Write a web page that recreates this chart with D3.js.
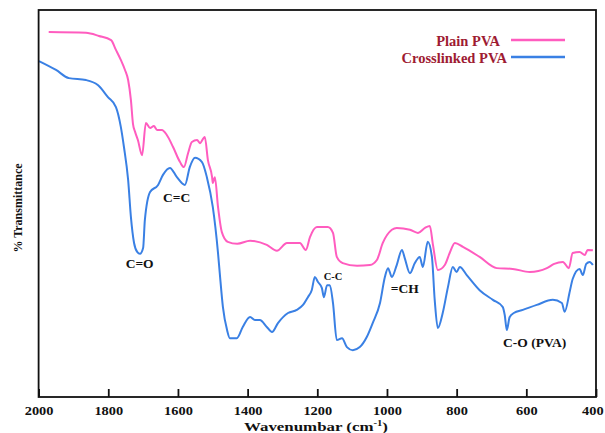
<!DOCTYPE html>
<html>
<head>
  <meta charset="utf-8">
  <script src="https://d3js.org/d3.v7.min.js"></script>
  <style>
    body { margin: 0; background: #fff; }
    text { font-family: "Liberation Serif", "Times New Roman", serif; font-weight: bold; }
  </style>
</head>
<body>
<script>
// Plain PVA (pink)
var plainWn = [1971, 1864, 1827, 1792, 1778, 1764, 1752, 1743, 1735, 1729, 1723, 1715, 1703,
  1692, 1680, 1669, 1660, 1646, 1632, 1614, 1594, 1583, 1571, 1560, 1545, 1537, 1523, 1514,
  1502, 1500, 1494, 1485, 1474, 1457, 1430, 1393, 1345, 1316, 1287, 1250, 1233, 1221, 1201,
  1170, 1155, 1144, 1127, 1086, 1049, 1029, 1012, 986, 972, 934, 911, 891, 877, 868, 854,
  834, 820, 805, 782, 734, 685, 639, 590, 541, 520, 495, 478, 467, 447, 432, 424, 409];
var plainT = [94.3, 94.1, 93.3, 92.2, 89.7, 87.1, 84.5, 81.9, 76.7, 70.5, 68.5, 66.4, 62.5,
  70.8, 69.5, 70.0, 69.0, 69.0, 67.7, 64.6, 60.7, 59.4, 63.0, 65.9, 66.4, 65.6, 67.2, 61.2,
  56.8, 55.3, 56.8, 49.1, 42.6, 40.1, 39.6, 40.4, 39.3, 37.8, 39.8, 39.8, 38.0, 41.3, 43.9,
  43.9, 42.4, 36.2, 34.6, 33.9, 34.1, 35.4, 39.8, 43.2, 43.7, 43.2, 42.4, 43.7, 44.2, 39.3,
  32.8, 34.1, 37.2, 39.8, 38.8, 36.2, 33.3, 33.1, 32.3, 33.3, 34.4, 34.9, 33.3, 37.2, 37.5,
  36.7, 38.0, 37.9];

// Crosslinked PVA (blue)
var crossWn = [1999, 1950, 1913, 1864, 1830, 1801, 1778, 1764, 1755, 1743, 1735, 1726, 1717,
  1709, 1700, 1695, 1680, 1657, 1643, 1623, 1603, 1580, 1566, 1551, 1531, 1517, 1500, 1485,
  1480, 1471, 1459, 1451, 1431, 1414, 1393, 1379, 1365, 1345, 1330, 1313, 1284, 1259, 1241,
  1227, 1216, 1207, 1198, 1187, 1181, 1172, 1164, 1155, 1144, 1129, 1115, 1098, 1078, 1058,
  1041, 1020, 1006, 997, 986, 972, 957, 949, 934, 920, 906, 897, 883, 871, 863, 854, 840,
  825, 811, 800, 791, 771, 734, 696, 668, 662, 656, 648, 636, 610, 570, 524, 498, 490, 475,
  467, 447, 438, 428, 418, 409];
var crossT = [86.8, 84.5, 82.4, 81.9, 80.6, 77.5, 74.9, 69.8, 64.6, 56.1, 46.5, 39.8, 37.5,
  37.0, 38.5, 45.7, 53.0, 54.8, 57.4, 59.2, 56.8, 54.8, 59.4, 61.8, 60.7, 56.8, 49.1, 37.2,
  32.0, 23.3, 17.3, 15.2, 15.2, 18.1, 20.7, 19.9, 19.9, 18.1, 16.8, 19.1, 21.7, 22.5, 23.8,
  25.8, 27.6, 31.0, 29.7, 28.2, 25.8, 28.9, 28.9, 24.3, 14.7, 15.2, 12.9, 12.1, 12.9, 15.5,
  19.1, 24.3, 31.0, 33.3, 31.0, 34.1, 38.0, 35.9, 32.0, 34.6, 36.2, 33.6, 40.1, 36.2, 25.1,
  17.8, 21.7, 28.4, 33.6, 32.3, 33.6, 31.5, 27.6, 25.1, 23.3, 21.2, 17.3, 20.6, 21.7, 22.5,
  23.8, 25.1, 24.3, 22.0, 27.4, 30.5, 33.1, 31.5, 34.4, 34.9, 34.1];

var tickValues = [2000, 1800, 1600, 1400, 1200, 1000, 800, 600, 400];

var legendNames = ["Plain PVA", "Crosslinked PVA"];
var legendColors = ["#ff5cbf", "#3a80e4"];

// band annotations: text, wavenumber, transmittance
var annoText = ["C=O", "C=C", "C-C", "=CH", "C-O (PVA)"];
var annoWn = [1710, 1604, 1155, 949, 576];
var annoT = [33.3, 50.4, 30.2, 26.9, 12.9];
var annoSize = [13.5, 13.5, 10.5, 13.5, 13.5];

var W = 605, H = 433;
var svg = d3.select("body").append("svg")
    .attr("width", W)
    .attr("height", H);

var x = d3.scaleLinear().domain([2000, 400]).range([38.6, 596]);
var y = d3.scaleLinear().domain([0, 100]).range([397, 10]);

var line = d3.line()
    .x(function (d) { return x(d[0]); })
    .y(function (d) { return y(d[1]); })
    .curve(d3.curveMonotoneX);

var series = [
  d3.zip(plainWn, plainT),
  d3.zip(crossWn, crossT)
];

svg.selectAll("path.spec")
    .data(series)
    .enter()
    .append("path")
    .attr("class", "spec")
    .attr("d", line)
    .attr("fill", "none")
    .attr("stroke", function (d, i) { return legendColors[i]; })
    .attr("stroke-width", 2)
    .attr("stroke-linejoin", "round");

// frame
svg.append("rect")
    .attr("x", x(2000)).attr("y", y(100))
    .attr("width", x(400) - x(2000))
    .attr("height", y(0) - y(100))
    .attr("fill", "none")
    .attr("stroke", "#111")
    .attr("stroke-width", 1.8);

var xAxis = svg.append("g")
    .attr("transform", "translate(0," + y(0) + ")")
    .call(d3.axisBottom(x).tickValues(tickValues).tickSizeInner(-8).tickSizeOuter(0)
      .tickFormat(d3.format("d")));
xAxis.select(".domain").remove();
xAxis.selectAll("line").attr("stroke", "#111").attr("stroke-width", 1.8);
// the reference is stretched sideways, so widen the labels a little
xAxis.selectAll("text")
    .attr("y", 9)
    .attr("x", function (d) { return d === 400 ? -3 : 0; })
    .attr("transform", "scale(1.2,1)")
    .style("font-family", "Liberation Serif")
    .style("font-weight", "bold")
    .style("font-size", "12px")
    .attr("fill", "#111");

// axis titles
var xt = svg.append("text")
    .attr("transform", "translate(316,431) scale(1.25,1)")
    .attr("text-anchor", "middle")
    .style("font-size", "13.5px")
    .attr("fill", "#111");
xt.append("tspan").text("Wavenumbar (cm");
xt.append("tspan").text("-1").attr("dy", -5).style("font-size", "8.5px");
xt.append("tspan").text(")").attr("dy", 5);

svg.append("text")
    .attr("transform", "translate(22,208) rotate(-90)")
    .attr("text-anchor", "middle")
    .style("font-size", "12px")
    .attr("fill", "#111")
    .text("% Transmittance");

// legend
var leg = svg.selectAll("g.leg")
    .data(legendNames)
    .enter()
    .append("g")
    .attr("class", "leg");
leg.append("text")
    .attr("x", function (d, i) { return i === 0 ? 500 : 507; })
    .attr("y", function (d, i) { return 46 + i * 17; })
    .attr("text-anchor", "end")
    .style("font-size", "14.5px")
    .attr("fill", "#9e1b32")
    .text(function (d) { return d; });
leg.append("line")
    .attr("x1", 511).attr("x2", 565)
    .attr("y1", function (d, i) { return 40 + i * 17; })
    .attr("y2", function (d, i) { return 40 + i * 17; })
    .attr("stroke", function (d, i) { return legendColors[i]; })
    .attr("stroke-width", 2.5);

// band labels
svg.selectAll("text.anno")
    .data(annoText)
    .enter()
    .append("text")
    .attr("class", "anno")
    .attr("x", function (d, i) { return x(annoWn[i]); })
    .attr("y", function (d, i) { return y(annoT[i]); })
    .attr("text-anchor", "middle")
    .style("font-size", function (d, i) { return annoSize[i] + "px"; })
    .attr("fill", "#111")
    .text(function (d) { return d; });
</script>
</body>
</html>
